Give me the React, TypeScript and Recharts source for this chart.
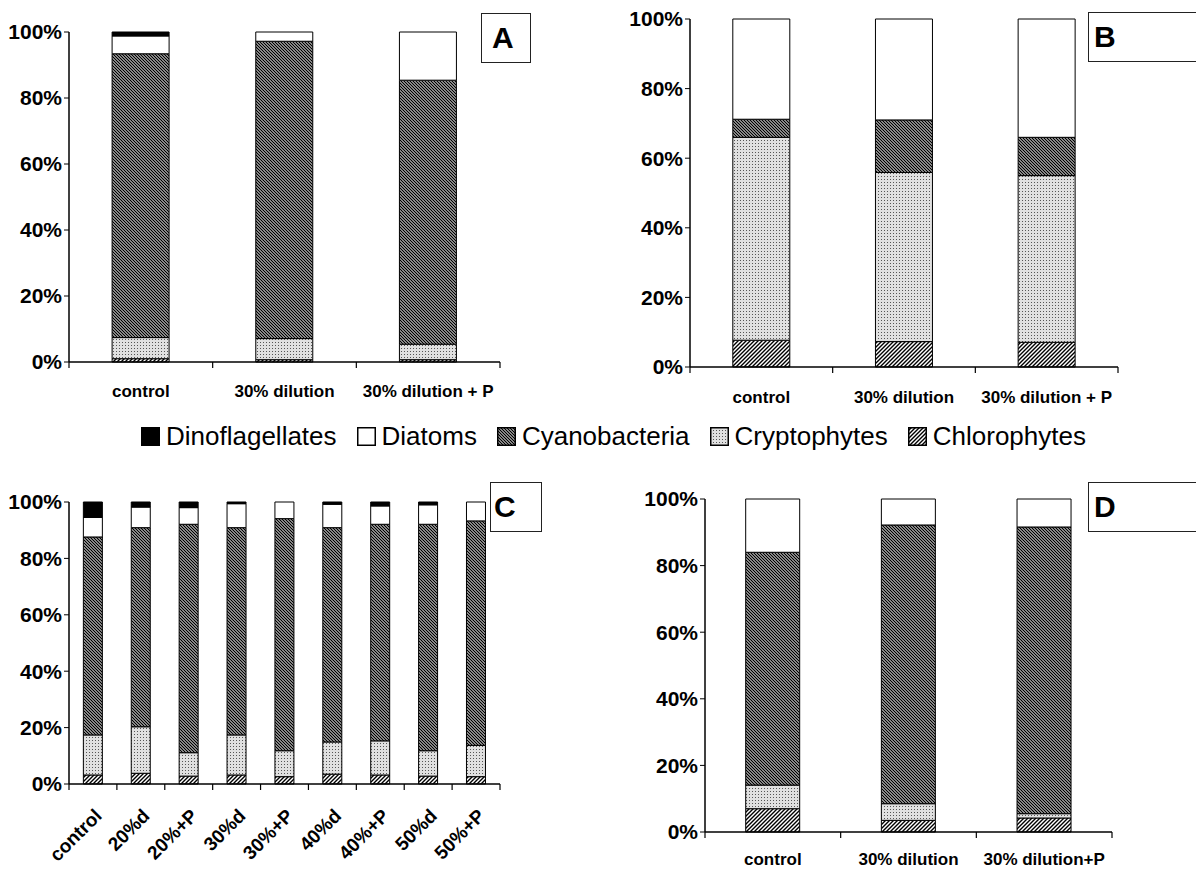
import React from "react";
import { BarChart, Bar, XAxis, YAxis } from "recharts";

// ---- data (percent of total biomass, stacked bottom → top) ----
const catsA = ["control", "30% dilution", "30% dilution + P"];
const chlA = [1.0, 0.7, 0.7];
const cryA = [6.4, 6.4, 4.7];
const cyaA = [86.0, 90.1, 80.0];
const diaA = [5.4, 2.8, 14.6];
const dinA = [1.2, 0, 0];

const catsB = ["control", "30% dilution", "30% dilution + P"];
const chlB = [7.7, 7.3, 7.1];
const cryB = [58.3, 48.6, 47.9];
const cyaB = [5.2, 15.1, 11.0];
const diaB = [28.8, 29.0, 34.0];
const dinB = [0, 0, 0];

const catsC = ["control", "20%d", "20%+P", "30%d", "30%+P", "40%d", "40%+P", "50%d", "50%+P"];
const chlC = [3.2, 3.8, 2.8, 3.2, 2.6, 3.5, 3.2, 2.8, 2.6];
const cryC = [14.2, 16.5, 8.3, 14.2, 9.2, 11.4, 12.1, 9.0, 11.1];
const cyaC = [70.2, 70.6, 81.0, 73.5, 82.3, 76.0, 76.8, 80.3, 79.6];
const diaC = [6.9, 7.3, 5.9, 8.5, 5.9, 8.3, 6.5, 6.9, 6.7];
const dinC = [5.5, 1.8, 2.0, 0.6, 0, 0.8, 1.4, 1.0, 0];

const catsD = ["control", "30% dilution", "30% dilution+P"];
const chlD = [7.0, 3.5, 4.2];
const cryD = [7.1, 5.0, 1.3];
const cyaD = [69.9, 83.7, 86.1];
const diaD = [16.0, 7.8, 8.4];
const dinD = [0, 0, 0];

const yTicks = [0, 20, 40, 60, 80, 100];
const legendNames = ["Dinoflagellates", "Diatoms", "Cyanobacteria", "Cryptophytes", "Chlorophytes"];
const stackOrder = ["Chlorophytes", "Cryptophytes", "Cyanobacteria", "Diatoms", "Dinoflagellates"];

const font = '"Liberation Sans", Arial, Helvetica, sans-serif';

function patternDefs(id: string) {
  return (
    <defs>
      <pattern id={`cya-${id}`} patternUnits="userSpaceOnUse" width={3} height={3}>
        <rect width={3} height={3} fill="#fff" />
        <path d="M0,0 L3,3 M-1,2 L1,4 M2,-1 L4,1" stroke="#000" strokeWidth={1.35} />
      </pattern>
      <pattern id={`chl-${id}`} patternUnits="userSpaceOnUse" width={4} height={4}>
        <rect width={4} height={4} fill="#fff" />
        <path d="M0,4 L4,0 M-1,1 L1,-1 M3,5 L5,3" stroke="#000" strokeWidth={1.4} />
      </pattern>
      <pattern id={`cry-${id}`} patternUnits="userSpaceOnUse" width={3} height={3}>
        <rect width={3} height={3} fill="#e0e0e0" />
        <rect width={1} height={1} fill="#555" />
      </pattern>
    </defs>
  );
}

function fillFor(name: string, id: string) {
  if (name === "Dinoflagellates") return "#000";
  if (name === "Diatoms") return "#fff";
  if (name === "Cyanobacteria") return `url(#cya-${id})`;
  if (name === "Cryptophytes") return `url(#cry-${id})`;
  return `url(#chl-${id})`;
}

interface PanelProps {
  id: string;
  cats: string[];
  chl: number[];
  cry: number[];
  cya: number[];
  dia: number[];
  din: number[];
  left: number;
  top: number;
  plotW: number;
  plotH: number;
  labelDy: number;
  rotate?: boolean;
}

function Panel({ id, cats, chl, cry, cya, dia, din, left, top, plotW, plotH, labelDy, rotate }: PanelProps) {
  const data = cats.map((c, i) => ({
    cat: c,
    Chlorophytes: chl[i],
    Cryptophytes: cry[i],
    Cyanobacteria: cya[i],
    Diatoms: dia[i],
    Dinoflagellates: din[i],
  }));
  const bw = plotW / cats.length;

  // category ticks sit on the band edges, label at the band centre
  const renderTick = (props: any) => {
    const { x, y, payload } = props;
    const idx = payload?.index ?? props.index ?? 0;
    const tx = x + 10;
    const ty = y + 33;
    return (
      <g>
        <line x1={x - bw / 2} x2={x - bw / 2} y1={y} y2={y + 6} stroke="#000" strokeWidth={1.2} />
        {idx === cats.length - 1 && (
          <line x1={x + bw / 2} x2={x + bw / 2} y1={y} y2={y + 6} stroke="#000" strokeWidth={1.2} />
        )}
        {rotate ? (
          <text
            x={tx}
            y={ty}
            textAnchor="end"
            transform={`rotate(-45, ${tx}, ${ty})`}
            fontSize={19}
            fontWeight={700}
            fontFamily={font}
            fill="#000"
          >
            {payload.value}
          </text>
        ) : (
          <text x={x} y={y + labelDy} textAnchor="middle" fontSize={17} fontWeight={700} fontFamily={font} fill="#000">
            {payload.value}
          </text>
        )}
      </g>
    );
  };

  return (
    <div style={{ position: "absolute", left: left - 70, top: top - 20 }}>
      <BarChart
        width={plotW + 80}
        height={plotH + 120}
        data={data}
        margin={{ top: 20, right: 10, left: 10, bottom: 0 }}
        barCategoryGap="30%"
      >
        {patternDefs(id)}
        <XAxis
          dataKey="cat"
          interval={0}
          height={100}
          tickSize={0}
          tickMargin={0}
          tickLine={false}
          axisLine={{ stroke: "#000", strokeWidth: 1.5 }}
          tick={renderTick}
        />
        <XAxis
          xAxisId="top"
          dataKey="cat"
          orientation="top"
          height={0}
          tick={false}
          tickLine={false}
          axisLine={{ stroke: "#000", strokeWidth: 1.2 }}
        />
        <YAxis
          width={60}
          domain={[0, 100]}
          ticks={yTicks}
          tickFormatter={(v: number) => `${v}%`}
          tickSize={5}
          tickMargin={2}
          tickLine={{ stroke: "#000" }}
          axisLine={{ stroke: "#000", strokeWidth: 1.5 }}
          tick={{ fontSize: 21, fontWeight: 700, fill: "#000", fontFamily: font }}
        />
        <YAxis
          yAxisId="right"
          orientation="right"
          width={0}
          domain={[0, 100]}
          tick={false}
          tickLine={false}
          axisLine={{ stroke: "#000", strokeWidth: 1.2 }}
        />
        {stackOrder.map((k) => (
          <Bar
            key={k}
            dataKey={k}
            stackId="s"
            fill={fillFor(k, id)}
            stroke="#000"
            strokeWidth={1}
            isAnimationActive={false}
          />
        ))}
      </BarChart>
    </div>
  );
}

function LetterBox({ letter, left, top, width, pad }: { letter: string; left: number; top: number; width: number; pad: number }) {
  return (
    <div
      style={{
        position: "absolute",
        left,
        top,
        width,
        height: 50,
        boxSizing: "border-box",
        border: "1.5px solid #222",
        background: "#fff",
        fontFamily: font,
        fontWeight: 700,
        fontSize: 30,
        lineHeight: "48px",
        paddingLeft: pad,
      }}
    >
      {letter}
    </div>
  );
}

function Legend() {
  return (
    <div
      style={{
        position: "absolute",
        left: 141,
        top: 421,
        display: "flex",
        alignItems: "center",
        fontFamily: font,
        fontSize: 26,
        whiteSpace: "nowrap",
      }}
    >
      {legendNames.map((n) => (
        <div key={n} style={{ display: "flex", alignItems: "center", marginRight: 20 }}>
          <svg width={19} height={19} style={{ marginRight: 6 }}>
            {patternDefs("L")}
            <rect x={0.75} y={0.75} width={17.5} height={17.5} fill={fillFor(n, "L")} stroke="#000" strokeWidth={1.5} />
          </svg>
          <span>{n}</span>
        </div>
      ))}
    </div>
  );
}

export default function App() {
  return (
    <div
      style={{
        position: "absolute",
        left: 0,
        top: 0,
        width: 1196,
        height: 870,
        overflow: "hidden",
        background: "#fff",
      }}
    >
      <Panel id="A" cats={catsA} chl={chlA} cry={cryA} cya={cyaA} dia={diaA} din={dinA} left={69} top={32} plotW={431} plotH={330} labelDy={35} />
      <Panel id="B" cats={catsB} chl={chlB} cry={cryB} cya={cyaB} dia={diaB} din={dinB} left={690} top={19} plotW={428} plotH={348} labelDy={36} />
      <Panel id="C" cats={catsC} chl={chlC} cry={cryC} cya={cyaC} dia={diaC} din={dinC} left={69} top={502} plotW={431} plotH={282} labelDy={30} rotate />
      <Panel id="D" cats={catsD} chl={chlD} cry={cryD} cya={cyaD} dia={diaD} din={dinD} left={705} top={499} plotW={407} plotH={333} labelDy={33} />
      <LetterBox letter="A" left={481} top={13} width={50} pad={10} />
      <LetterBox letter="B" left={1088} top={12} width={120} pad={5} />
      <LetterBox letter="C" left={490} top={482} width={52} pad={3} />
      <LetterBox letter="D" left={1088} top={482} width={120} pad={5} />
      <Legend />
    </div>
  );
}
